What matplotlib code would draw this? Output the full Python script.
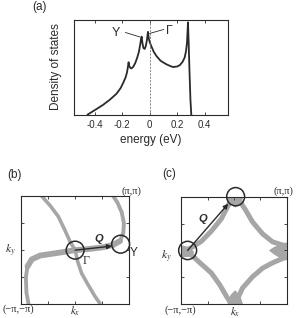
import matplotlib
matplotlib.use("Agg")
import matplotlib.pyplot as plt
from matplotlib.patches import Circle, Polygon

plt.rcParams['font.family'] = ['Liberation Sans', 'DejaVu Sans']
plt.rcParams['mathtext.fontset'] = 'stix'

# ---------------- data ----------------
energy = [-0.45, -0.40, -0.34, -0.29, -0.24, -0.21, -0.19, -0.175, -0.165, -0.158,
          -0.153, -0.148, -0.14, -0.133, -0.12, -0.105, -0.09, -0.078, -0.068, -0.062,
          -0.058, -0.052, -0.045, -0.036, -0.028, -0.02, -0.012, -0.006, 0.0, 0.012,
          0.03, 0.05, 0.08, 0.12, 0.15, 0.17, 0.20, 0.22, 0.24, 0.255,
          0.265, 0.272, 0.276, 0.279, 0.284, 0.29, 0.297, 0.303]
dos = [0.0, 0.045, 0.10, 0.155, 0.22, 0.28, 0.34, 0.39, 0.44, 0.50,
       0.55, 0.51, 0.49, 0.485, 0.50, 0.54, 0.60, 0.66, 0.74, 0.80,
       0.82, 0.75, 0.70, 0.69, 0.72, 0.78, 0.87, 0.80, 0.765, 0.72,
       0.66, 0.615, 0.565, 0.53, 0.51, 0.50, 0.505, 0.52, 0.555, 0.60,
       0.67, 0.76, 0.88, 0.97, 0.75, 0.45, 0.15, 0.0]
energy_ticks = [-0.4, -0.2, 0, 0.2, 0.4]
energy_ticklabels = ['-0.4', '-0.2', '0', '0.2', '0.4']

# panel (b) Fermi surface (units of pi)
b_a_kx = [-0.62, -0.46, -0.31, -0.19, -0.095, 0.0, 0.047, 0.12, 0.24, 0.37, 0.47]
b_a_ky = [1.0, 0.82, 0.62, 0.37, 0.16, 0.0, -0.21, -0.43, -0.64, -0.86, -1.0]
b_b_kx = [-0.86, -0.9, -0.91, -0.88, -0.8, -0.65, -0.45, -0.25, 0.0, 0.24, 0.49,
          0.70, 0.83, 0.89, 0.9, 0.86, 0.78, 0.70]
b_b_ky = [-1.0, -0.78, -0.5, -0.3, -0.17, -0.1, -0.07, -0.04, 0.0, 0.02, 0.05,
          0.095, 0.17, 0.32, 0.5, 0.7, 0.88, 1.0]
b_gamma = (0.0, 0.0)
b_y = (0.84, 0.11)

# panel (c) Fermi surface (units of pi)
c_ur_kx = [0.05, 0.12, 0.22, 0.35, 0.54, 0.73, 0.92, 1.0]
c_ur_ky = [1.0, 0.9, 0.75, 0.53, 0.31, 0.16, 0.10, 0.09]
c_ul_kx = [-0.03, -0.11, -0.24, -0.43, -0.62, -0.81, -0.92, -1.0]
c_ul_ky = [1.0, 0.84, 0.59, 0.36, 0.17, 0.05, 0.01, 0.0]
c_ll_kx = [-1.0, -0.92, -0.8, -0.68, -0.43, -0.27, -0.14, -0.05]
c_ll_ky = [-0.02, -0.03, -0.09, -0.2, -0.42, -0.64, -0.86, -1.0]
c_lr_kx = [0.02, 0.16, 0.35, 0.54, 0.73, 0.92, 1.0]
c_lr_ky = [-1.0, -0.70, -0.49, -0.33, -0.23, -0.15, -0.13]
c_left = (-0.88, 0.0)
c_top = (0.03, 1.0)

W, H = 297, 318
fig = plt.figure(figsize=(W / 100, H / 100), dpi=100)


def fx(x):
    return x / W


def fy(y):
    return 1 - y / H


GRAY = '#a6a6a6'
DARK = '#2a2a2a'

# ---------------- panel (a) ----------------
axa = fig.add_axes([fx(74), fy(114.5), (228 - 74) / W, (114.5 - 19.5) / H])
axa.plot(energy, dos, color=DARK, lw=1.3, solid_joinstyle='round')
axa.axvline(0, color='#777777', lw=0.6, ls=(0, (2.5, 1.5)))
axa.set_xlim(-0.55, 0.57)
axa.set_ylim(0, 1)
axa.set_xticks(energy_ticks)
axa.set_xticklabels(energy_ticklabels)
axa.set_yticks([])
axa.tick_params(axis='x', direction='in', top=True, length=2.2, width=0.6,
                labelsize=7, pad=4, colors=DARK)
for s in axa.spines.values():
    s.set_linewidth(0.8)
    s.set_color(DARK)
axa.set_xlabel('energy (eV)', fontsize=8.5, color=DARK)
axa.xaxis.set_label_coords(0.5, -0.2)
axa.set_ylabel('Density of states', fontsize=8.5, color=DARK)
axa.yaxis.set_label_coords(-0.075, 0.5)
axa.text(-0.242, 0.853, 'Y', fontsize=9, ha='center', va='center', color=DARK)
axa.plot([-0.175, -0.073], [0.863, 0.817], color=DARK, lw=0.6)
axa.text(0.145, 0.88, 'Γ', fontsize=9, ha='center', va='center', color=DARK)
axa.plot([0.102, 0.0], [0.895, 0.853], color=DARK, lw=0.6)
fig.text(fx(39), fy(7), '(a)', fontsize=8.5, ha='center', va='center', color=DARK)


def setup_fs_axes(ax):
    ax.set_xlim(-1, 1)
    ax.set_ylim(-1, 1)
    ax.set_xticks([-0.5, 0, 0.5])
    ax.set_yticks([-0.5, 0, 0.5])
    ax.set_xticklabels([])
    ax.set_yticklabels([])
    ax.tick_params(direction='in', top=True, right=True, length=2.2, width=0.6, colors=DARK)
    for s in ax.spines.values():
        s.set_linewidth(0.8)
        s.set_color(DARK)


SERIF = ['Liberation Serif', 'DejaVu Serif']

# ---------------- panel (b) ----------------
axb = fig.add_axes([fx(21), fy(304.3), 108.3 / W, 108.3 / H])
setup_fs_axes(axb)
axb.plot(b_a_kx, b_a_ky, color=GRAY, lw=2.6, solid_capstyle='butt')
axb.plot(b_b_kx, b_b_ky, color=GRAY, lw=2.8, solid_capstyle='butt')
axb.plot(b_b_kx[3:13], b_b_ky[3:13], color=GRAY, lw=4.2, solid_capstyle='round')
for c in (b_gamma, b_y):
    axb.add_patch(Circle(c, 0.165, fill=False, ec=DARK, lw=1.1, clip_on=False, zorder=5))
axb.annotate('', xy=(0.68, 0.075), xytext=b_gamma,
             arrowprops=dict(arrowstyle='-|>', color=DARK, lw=1.0,
                             mutation_scale=7, shrinkA=0, shrinkB=0), zorder=6)
axb.text(0.43, 0.2, 'Q', fontsize=8, fontweight='bold', fontstyle='italic',
         ha='center', va='center', color=DARK)
axb.text(0.2, -0.2, 'Γ', fontsize=8.5, ha='center', va='center', color=DARK, family=SERIF)
fig.text(fx(133.5), fy(252.5), 'Y', fontsize=8.5, ha='center', va='center', color=DARK)
fig.text(fx(131.5), fy(191), '(π,π)', fontsize=7.5, ha='center', va='center',
         color=DARK, family=SERIF)
fig.text(fx(18), fy(309.5), '(−π,−π)', fontsize=7.5, ha='center', va='center',
         color=DARK, family=SERIF)
fig.text(fx(75.5), fy(311.5), r'$k_x$', fontsize=8, ha='center', va='center', color=DARK)
fig.text(fx(10), fy(250.5), r'$k_y$', fontsize=8.5, ha='center', va='center', color=DARK)
fig.text(fx(14), fy(175), '(b)', fontsize=8.5, ha='center', va='center', color=DARK)

# ---------------- panel (c) ----------------
axc = fig.add_axes([fx(181.3), fy(304.2), 105.5 / W, 107.5 / H])
setup_fs_axes(axc)
for xs, ys in ((c_ur_kx, c_ur_ky), (c_ul_kx, c_ul_ky), (c_ll_kx, c_ll_ky), (c_lr_kx, c_lr_ky)):
    axc.plot(xs, ys, color=GRAY, lw=3.6, solid_capstyle='butt')
# vertex fillings
axc.add_patch(Polygon([(0.66, 0.0), (0.75, 0.06), (0.85, 0.1), (1.0, 0.15), (1.0, -0.17),
                       (0.85, -0.13), (0.75, -0.07)],
                      closed=True, fc=GRAY, ec='none'))
axc.add_patch(Polygon([(0.02, -0.74), (-0.06, -0.82), (-0.11, -0.92), (-0.12, -1.0),
                       (0.17, -1.0), (0.13, -0.88), (0.08, -0.8)],
                      closed=True, fc=GRAY, ec='none'))
axc.add_patch(Polygon([(-0.16, 1.0), (-0.08, 0.86), (0.03, 0.8), (0.13, 0.87), (0.18, 1.0)],
                      closed=True, fc=GRAY, ec='none'))
axc.add_patch(Polygon([(-1.0, 0.1), (-0.86, 0.06), (-0.75, -0.03), (-0.86, -0.12), (-1.0, -0.13)],
                      closed=True, fc=GRAY, ec='none'))
for c in (c_left, c_top):
    axc.add_patch(Circle(c, 0.17, fill=False, ec=DARK, lw=1.1, clip_on=False, zorder=5))
axc.annotate('', xy=(-0.11, 0.87), xytext=c_left,
             arrowprops=dict(arrowstyle='-|>', color=DARK, lw=1.0,
                             mutation_scale=7, shrinkA=0, shrinkB=0), zorder=6)
axc.text(-0.59, 0.59, 'Q', fontsize=8, fontweight='bold', fontstyle='italic',
         ha='center', va='center', color=DARK)
fig.text(fx(283), fy(190.7), '(π,π)', fontsize=7.5, ha='center', va='center',
         color=DARK, family=SERIF)
fig.text(fx(180.5), fy(310), '(−π,−π)', fontsize=7.5, ha='center', va='center',
         color=DARK, family=SERIF)
fig.text(fx(235.5), fy(312), r'$k_x$', fontsize=8, ha='center', va='center', color=DARK)
fig.text(fx(166), fy(257), r'$k_y$', fontsize=8.5, ha='center', va='center', color=DARK)
fig.text(fx(168.7), fy(174), '(c)', fontsize=8.5, ha='center', va='center', color=DARK)

fig.savefig('out.png', dpi=100)
